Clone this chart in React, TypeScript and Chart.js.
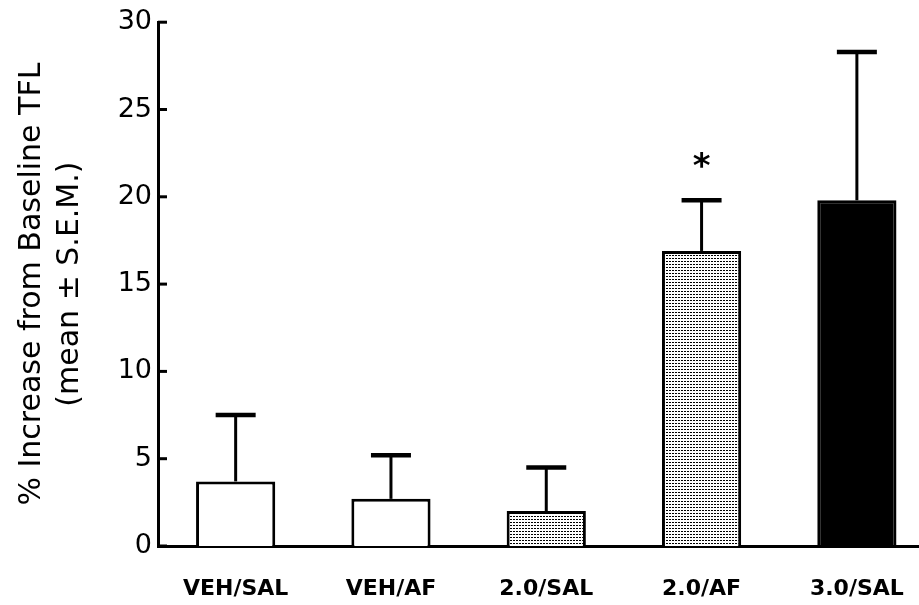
import React, { useEffect, useRef } from "react";
import { Chart, registerables } from "chart.js";

Chart.register(...registerables);

const categories = ["VEH/SAL", "VEH/AF", "2.0/SAL", "2.0/AF", "3.0/SAL"];
const means = [3.7, 2.7, 2.0, 16.9, 19.8];
const sems = [3.8, 2.5, 2.5, 2.9, 8.5];
const significance = ["", "", "", "*", ""];
const fillKinds = ["white", "white", "dots", "dots", "black"];
const yTicks = [0, 5, 10, 15, 20, 25, 30];
const yTitle = ["% Increase from Baseline TFL", "(mean \u00b1 S.E.M.)"];

function makeDotPattern(): CanvasPattern | string {
  const c = document.createElement("canvas");
  c.width = 3;
  c.height = 3;
  const g = c.getContext("2d");
  if (!g) return "#c0c0c0";
  g.fillStyle = "#ffffff";
  g.fillRect(0, 0, 3, 3);
  g.fillStyle = "#000000";
  g.fillRect(0, 0, 2, 1);
  const p = g.createPattern(c, "repeat");
  return p || "#c0c0c0";
}

export default function App() {
  const ref = useRef<HTMLCanvasElement | null>(null);

  useEffect(() => {
    if (!ref.current) return;
    const dots = makeDotPattern();
    const colors = fillKinds.map((k) => (k === "white" ? "#ffffff" : k === "black" ? "#000000" : dots));

    const errorBars = {
      id: "errorBars",
      afterDatasetsDraw(chart: any) {
        const { ctx, scales } = chart;
        const xs = scales.x;
        const ys = scales.y;
        ctx.save();
        ctx.strokeStyle = "#000";
        ctx.lineCap = "butt";
        means.forEach((m, i) => {
          const x = xs.getPixelForValue(i);
          const yb = ys.getPixelForValue(m);
          const yt = ys.getPixelForValue(m + sems[i]);
          ctx.lineWidth = 3;
          ctx.beginPath();
          ctx.moveTo(x, yb);
          ctx.lineTo(x, yt);
          ctx.stroke();
          ctx.lineWidth = 4.5;
          ctx.beginPath();
          ctx.moveTo(x - 20, yt);
          ctx.lineTo(x + 20, yt);
          ctx.stroke();
          if (significance[i]) {
            ctx.fillStyle = "#000";
            ctx.font = "bold 34px 'DejaVu Sans'";
            ctx.textAlign = "center";
            ctx.textBaseline = "middle";
            ctx.fillText(significance[i], x, ys.getPixelForValue(m + sems[i] + 1.8) - 1);
          }
        });
        // inner tick marks on y axis
        const left = chart.chartArea.left;
        ctx.lineWidth = 3;
        ys.ticks.forEach((t: any) => {
          const y = ys.getPixelForValue(t.value);
          ctx.beginPath();
          ctx.moveTo(left, y);
          ctx.lineTo(left + 9, y);
          ctx.stroke();
        });
        ctx.restore();
      },
    };

    const chart = new Chart(ref.current, {
      type: "bar",
      data: {
        datasets: [
          {
            data: means.map((v, i) => ({ x: i, y: v })),
            backgroundColor: colors as any,
            borderColor: "#000",
            borderWidth: 3,
            barPercentage: 1,
            categoryPercentage: 0.51,
          },
        ],
      },
      options: {
        responsive: false,
        animation: false,
        events: [],
        layout: { padding: { top: 22, left: 0, right: 0, bottom: 0 } },
        plugins: { legend: { display: false }, tooltip: { enabled: false } },
        scales: {
          x: {
            type: "linear",
            min: -0.5,
            max: 4.4,
            offset: false,
            grid: { display: false, drawTicks: false },
            border: { display: true, color: "#000", width: 3 },
            afterBuildTicks: (s: any) => {
              s.ticks = categories.map((_, i) => ({ value: i }));
            },
            afterFit: (s: any) => {
              s.height = 59;
              s.paddingLeft = 0;
              s.paddingRight = 0;
            },
            ticks: {
              autoSkip: false,
              maxRotation: 0,
              padding: 30,
              color: "#000",
              font: { family: "'DejaVu Sans'", size: 22, weight: "bold" },
              callback: (v: any) => categories[Math.round(Number(v))] ?? "",
            },
          },
          y: {
            min: 0,
            max: 30,
            grid: { display: false, drawTicks: false },
            border: { display: true, color: "#000", width: 3 },
            afterBuildTicks: (s: any) => {
              s.ticks = yTicks.map((v) => ({ value: v }));
            },
            afterFit: (s: any) => {
              s.width = 158;
            },
            ticks: {
              padding: 6,
              color: "#000",
              font: { family: "'DejaVu Sans'", size: 27 },
            },
            title: {
              display: true,
              text: yTitle,
              color: "#000",
              padding: { top: 13, bottom: 0 },
              font: { family: "'DejaVu Sans'", size: 30, lineHeight: 1.27 },
            },
          },
        },
      },
      plugins: [errorBars],
    });
    return () => chart.destroy();
  }, []);

  return (
    <div style={{ position: "fixed", left: 0, top: 0, width: 919, height: 605, background: "#fff" }}>
      <canvas ref={ref} width={919} height={605} style={{ display: "block" }} />
    </div>
  );
}
